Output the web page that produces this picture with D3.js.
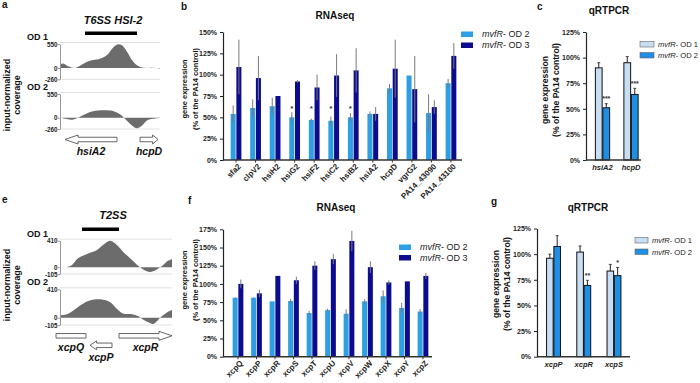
<!DOCTYPE html>
<html>
<head>
<meta charset="utf-8">
<script src="https://cdn.jsdelivr.net/npm/d3@7"></script>
<style>
  body { margin: 0; background: #fff; }
  svg { display: block; }
</style>
</head>
<body>
<script>
// ---- panel a: T6SS HSI-2 coverage (position along locus, coverage) ----
const posA1 = [0, 3, 8, 15, 20, 27, 33, 40, 47, 53, 58, 62, 67, 72, 77, 82, 87, 93, 100];
const covA1 = [80, 100, 40, 0, 50, 140, 183, 214, 298, 466, 545, 520, 374, 183, 61, 8, 0, 5, -15];
const posA2 = [0, 3, 7, 12, 18, 25, 33, 43, 53, 60, 65, 72, 77, 82, 87, 93, 100];
const covA2 = [0, -10, -30, -47, 0, 79, 150, 173, 157, 79, -24, -180, -245, -180, -63, -24, -5];
const genesA = ["hsiA2", "hcpD"];
const geneStartA = [5, 80];
const geneEndA = [57, 98];
const geneStrandA = [-1, 1];
const geneRowA = [0, 0];

// ---- panel e: T2SS coverage ----
const posE1 = [0, 7, 12, 18, 27, 37, 43, 50, 55, 63, 72, 80, 85, 90, 96, 102, 108, 112];
const covE1 = [0, 5, 36, 138, 205, 267, 343, 410, 369, 241, 113, 0, -50, -72, -40, 20, 100, 123];
const posE2 = [0, 7, 13, 20, 27, 33, 43, 50, 57, 63, 72, 78, 83, 90, 93, 97, 100, 107, 112];
const covE2 = [35, 50, 100, 175, 235, 260, 260, 225, 125, 60, 50, 25, -25, -75, -90, -50, 0, 75, 110];
const genesE = ["xcpQ", "xcpP", "xcpR"];
const geneStartE = [-4, 30, 59];
const geneEndE = [26, 52, 112];
const geneStrandE = [0, -1, 1];
const geneRowE = [0, 1, 0];

// ---- panel b: RNAseq T6SS ----
const catsB = ["sfa2", "clpV2", "hsiH2", "hsiG2", "hsiF2", "hsiC2", "hsiB2", "hsiA2", "hcpD", "vgrG2", "PA14_43090", "PA14_43100"];
const od2B = [54, 61, 63, 50, 47, 46, 50, 54, 84, 99, 55, 90];
const od2BErr = [10, 10, 10, 6, 1.5, 5, 5, 3, 5, 0, 22, 5];
const od3B = [109, 96, 75, 92, 85, 99, 105, 54, 107, 83, 62, 122];
const od3BErr = [32, 26, 0, 1.5, 15, 25, 26, 8, 34, 39, 8, 15];
const starsB = ["", "", "", "*", "*", "*", "*", "", "", "", "", ""];

// ---- panel c: qRTPCR T6SS ----
const catsC = ["hsiA2", "hcpD"];
const od1C = [90, 95];
const od1CErr = [5, 6];
const od2C = [51, 64];
const od2CErr = [4, 6];
const starsC = ["***", "***"];

// ---- panel f: RNAseq T2SS ----
const catsF = ["xcpQ", "xcpP", "xcpR", "xcpS", "xcpT", "xcpU", "xcpV", "xcpW", "xcpX", "xcpY", "xcpZ"];
const od2F = [81, 81, 76, 76.5, 60, 64, 59, 76, 83, 67, 62];
const od2FErr = [0.5, 0.5, 0, 3, 3, 2, 6, 3, 8, 7, 3.5];
const od3F = [100, 87, 111, 105, 125, 134, 159, 123, 102, 103.5, 111];
const od3FErr = [6, 5, 0, 5, 6, 7, 14, 8, 3, 0, 4];

// ---- panel g: qRTPCR T2SS ----
const catsG = ["xcpP", "xcpR", "xcpS"];
const od1G = [96, 102, 83.5];
const od1GErr = [4, 6, 6.5];
const od2G = [107.5, 69.5, 79];
const od2GErr = [10.5, 5, 8];
const starsG = ["", "**", "*"];

const FONT = '"Liberation Sans", Arial, Helvetica, sans-serif';
const LIGHT = "#2e9fe2", NAVY = "#0c0c8e";
const PALE = "#c8def3", MID = "#1f8fe6";

const svg = d3.select("body").append("svg")
  .attr("width", 700).attr("height", 383)
  .attr("font-family", FONT);

function label(x, y, s, size, opts = {}) {
  const t = svg.append("text")
    .attr("x", x).attr("y", y)
    .attr("font-size", size)
    .attr("font-weight", opts.weight || "bold")
    .attr("font-style", opts.style || "normal")
    .attr("text-anchor", opts.anchor || "start")
    .attr("fill", opts.fill || "#111");
  if (opts.rotate) t.attr("transform", `rotate(-90,${x},${y})`);
  t.text(s);
  return t;
}

function legendText(x, y, s, size) {
  const t = svg.append("text").attr("x", x).attr("y", y)
    .attr("font-size", size).attr("fill", "#222");
  t.append("tspan").attr("font-style", "italic").text("mvfR");
  t.append("tspan").text("- " + s);
}

// ---------- coverage tracks ----------
function trackPanel(cfg) {
  const g = svg.append("g");
  const x = d3.scaleLinear().domain([0, cfg.posMax]).range([60, 60 + cfg.posMax]);

  cfg.tracks.forEach(t => {
    const y = d3.scaleLinear().domain([cfg.yMin, cfg.yMax]).range([t.bottom, t.top]);

    g.selectAll(null).data([cfg.yMin, cfg.yMax]).join("line")
      .attr("x1", x(0)).attr("x2", x(cfg.posMax))
      .attr("y1", d => y(d) + (d > 0 ? -1.5 : 0)).attr("y2", d => y(d) + (d > 0 ? -1.5 : 0))
      .attr("stroke", "#e2e2e2").attr("stroke-width", 1);

    const area = d3.area()
      .x((d, i) => x(t.pos[i]))
      .y0(y(0)).y1(d => y(d))
      .curve(d3.curveCatmullRom);
    g.append("path").datum(t.cov).attr("d", area).attr("fill", "#6c6c6c");

    g.append("g").attr("transform", "translate(60,0)")
      .call(d3.axisLeft(y).tickValues([cfg.yMin, 0, cfg.yMax]).tickFormat(d => String(d)).tickSize(2).tickSizeOuter(0))
      .call(a => a.select(".domain").attr("stroke", "#999"))
      .call(a => a.selectAll(".tick line").attr("stroke", "#999"))
      .call(a => a.selectAll(".tick text").attr("font-family", FONT).attr("font-size", 6.3)
        .attr("font-weight", "bold").attr("fill", "#222").attr("x", -2.5));

    label(27, t.top - 4, t.name, 9);
  });

  // locus bar
  g.append("rect")
    .attr("x", x(cfg.locus[0])).attr("width", x(cfg.locus[1]) - x(cfg.locus[0]))
    .attr("y", cfg.locusY).attr("height", 3.5).attr("fill", "#000");
  label(113, cfg.titleY, cfg.title, 11, { style: "italic", anchor: "middle" });

  // genes
  cfg.genes.forEach((name, i) => {
    const x0 = x(cfg.starts[i]), x1 = x(cfg.ends[i]);
    const yc = cfg.geneY + cfg.rows[i] * 9.5;
    const sh = 4.5, hh = 9, hl = Math.min(13, (x1 - x0) * 0.3);
    let pts;
    if (cfg.strands[i] > 0) {
      pts = [[x0, yc - sh / 2], [x1 - hl, yc - sh / 2], [x1 - hl, yc - hh / 2], [x1, yc],
             [x1 - hl, yc + hh / 2], [x1 - hl, yc + sh / 2], [x0, yc + sh / 2]];
    } else if (cfg.strands[i] < 0) {
      pts = [[x1, yc - sh / 2], [x0 + hl, yc - sh / 2], [x0 + hl, yc - hh / 2], [x0, yc],
             [x0 + hl, yc + hh / 2], [x0 + hl, yc + sh / 2], [x1, yc + sh / 2]];
    } else {
      pts = [[x0, yc - sh / 2], [x1, yc - sh / 2], [x1, yc + sh / 2], [x0, yc + sh / 2]];
    }
    g.append("polygon").attr("points", pts.map(p => p.join(",")).join(" "))
      .attr("fill", "#fff").attr("stroke", "#555").attr("stroke-width", 0.9);
    label((x0 + x1) / 2, yc + 15.5, name, 10.5, { style: "italic", anchor: "middle" });
  });

  label(9.5, cfg.axisTitleY, "input-normalized", 9, { anchor: "middle", rotate: true });
  label(20, cfg.axisTitleY, "coverage", 9, { anchor: "middle", rotate: true });
}

// ---------- grouped bar charts ----------
function barPanel(cfg) {
  const g = svg.append("g");
  const y = d3.scaleLinear().domain([0, cfg.yMax]).range([cfg.yBottom, cfg.yTop]);
  const x0 = d3.scaleBand().domain(cfg.cats).range(cfg.band)
    .paddingInner(cfg.padIn).paddingOuter(cfg.padIn / 2);
  const x1 = d3.scaleBand().domain(d3.range(cfg.series.length))
    .range([0, x0.bandwidth()]).paddingInner(cfg.gap);

  cfg.series.forEach((s, si) => {
    const rows = s.values.map((v, i) => ({
      cat: cfg.cats[i], v, e: s.errs[i], star: s.stars ? s.stars[i] : ""
    }));
    const cx = d => x0(d.cat) + x1(si) + x1.bandwidth() / 2;

    g.selectAll(null).data(rows).join("rect")
      .attr("x", d => x0(d.cat) + x1(si))
      .attr("y", d => y(d.v))
      .attr("width", x1.bandwidth())
      .attr("height", d => y(0) - y(d.v))
      .attr("fill", s.color)
      .attr("stroke", cfg.outline ? "#111" : "none")
      .attr("stroke-width", cfg.outline ? 1 : 0);

    // RNAseq: symmetric grey bars; qRTPCR: upper bar with a small cap
    const withErr = rows.filter(d => d.e > 0);
    g.selectAll(null).data(withErr).join("line")
      .attr("x1", cx).attr("x2", cx)
      .attr("y1", d => cfg.outline ? y(d.v) : y(d.v - d.e))
      .attr("y2", d => y(d.v + d.e))
      .attr("stroke", cfg.outline ? "#222" : "#7a7a7a")
      .attr("stroke-width", 1);
    if (cfg.outline) {
      g.selectAll(null).data(withErr).join("line")
        .attr("x1", d => cx(d) - 1.5).attr("x2", d => cx(d) + 1.5)
        .attr("y1", d => y(d.v + d.e)).attr("y2", d => y(d.v + d.e))
        .attr("stroke", "#222").attr("stroke-width", 0.8);
    }

    g.selectAll(null).data(rows.filter(d => d.star !== "")).join("text")
      .attr("x", cx)
      .attr("y", d => cfg.starLevel != null ? y(cfg.starLevel) : y(d.v + d.e) - 2.5)
      .attr("text-anchor", "middle").attr("font-size", cfg.starSize)
      .attr("font-weight", "bold").attr("fill", "#333")
      .text(d => d.star);
  });

  // y axis
  g.append("g").attr("transform", `translate(${cfg.xLeft},0)`)
    .call(d3.axisLeft(y).tickValues(d3.range(0, cfg.yMax + 1, 25)).tickFormat(d => d + "%").tickSize(3).tickSizeOuter(0))
    .call(a => a.select(".domain").attr("stroke", "#222").attr("stroke-width", 1.2))
    .call(a => a.selectAll(".tick line").attr("stroke", "#222"))
    .call(a => a.selectAll(".tick text").attr("font-family", FONT).attr("font-size", 7)
      .attr("font-weight", "bold").attr("fill", "#222"));

  // x axis
  g.append("line").attr("x1", cfg.xLeft).attr("x2", cfg.xRight)
    .attr("y1", y(0)).attr("y2", y(0)).attr("stroke", "#333").attr("stroke-width", 1.4);

  const xa = g.append("g").attr("transform", `translate(0,${y(0)})`)
    .call(d3.axisBottom(x0).tickSize(cfg.rotate ? 2.5 : 0).tickPadding(4.5));
  xa.select(".domain").remove();
  xa.selectAll(".tick line").attr("stroke", "#333");
  const tt = xa.selectAll(".tick text").attr("font-family", FONT).attr("font-weight", "bold").attr("fill", "#222");
  if (cfg.rotate) {
    tt.attr("font-size", 8).attr("text-anchor", "end")
      .attr("x", 0).attr("y", 0).attr("dy", "0.35em")
      .attr("transform", "translate(3.5,5) rotate(-45)");
  } else {
    tt.attr("font-size", 7.5).attr("font-style", "italic");
  }

  // axis titles
  label(cfg.xLeft - cfg.t1, cfg.titleMid, "gene expression", cfg.titleSize, { anchor: "middle", rotate: true });
  label(cfg.xLeft - cfg.t2, cfg.titleMid, "(% of the PA14 control)", cfg.titleSize, { anchor: "middle", rotate: true });
}

function legend(x, y, step, colors, names, outline, size, sw) {
  colors.forEach((c, i) => {
    svg.append("rect").attr("x", x).attr("y", y + i * step - 5.5).attr("width", sw).attr("height", 5.5)
      .attr("fill", c).attr("stroke", outline ? "#666" : "none").attr("stroke-width", 0.6);
    legendText(x + sw + (outline ? 4 : 9), y + i * step, names[i], size);
  });
}

// ---------- panel a ----------
label(2, 8, "a", 10);
trackPanel({
  posMax: 100, yMin: -260, yMax: 550, title: "T6SS HSI-2", titleY: 24,
  locus: [25, 77], locusY: 31.5, axisTitleY: 95,
  tracks: [
    { name: "OD 1", pos: posA1, cov: covA1, top: 44, bottom: 79.3 },
    { name: "OD 2", pos: posA2, cov: covA2, top: 94, bottom: 129 }
  ],
  genes: genesA, starts: geneStartA, ends: geneEndA, strands: geneStrandA, rows: geneRowA, geneY: 139.5
});

// ---------- panel e ----------
label(2, 203, "e", 10);
trackPanel({
  posMax: 112, yMin: -105, yMax: 410, title: "T2SS", titleY: 219,
  locus: [22, 59], locusY: 227.5, axisTitleY: 285,
  tracks: [
    { name: "OD 1", pos: posE1, cov: covE1, top: 240.7, bottom: 274.1 },
    { name: "OD 2", pos: posE2, cov: covE2, top: 289.3, bottom: 325 }
  ],
  genes: genesE, starts: geneStartE, ends: geneEndE, strands: geneStrandE, rows: geneRowE, geneY: 335.8
});

// ---------- panel b ----------
label(181, 10, "b", 10);
label(335, 19, "RNAseq", 10, { anchor: "middle" });
barPanel({
  cats: catsB, yMax: 150, yBottom: 160, yTop: 32, xLeft: 223, xRight: 462,
  band: [226.25, 460.75], padIn: 0.45, gap: 0.12, rotate: true,
  series: [
    { values: od2B, errs: od2BErr, color: LIGHT, stars: starsB },
    { values: od3B, errs: od3BErr, color: NAVY }
  ],
  starLevel: 57, starSize: 8,
  t1: 36.5, t2: 25.5, titleMid: 89, titleSize: 7.5
});
legend(461, 37, 11, [LIGHT, NAVY], ["OD 2", "OD 3"], false, 9, 12);

// ---------- panel c ----------
label(537, 10, "c", 10);
label(609, 14, "qRTPCR", 10, { anchor: "middle" });
barPanel({
  cats: catsC, yMax: 125, yBottom: 160, yTop: 32, xLeft: 586, xRight: 641,
  band: [588.25, 645.25], padIn: 0.5, gap: 0.1, rotate: false, outline: true,
  series: [
    { values: od1C, errs: od1CErr, color: PALE },
    { values: od2C, errs: od2CErr, color: MID, stars: starsC }
  ],
  starSize: 7,
  t1: 38, t2: 27, titleMid: 90, titleSize: 8.6
});
legend(640, 47, 11, [PALE, MID], ["OD 1", "OD 2"], true, 7.6, 14);

// ---------- panel f ----------
label(188, 204, "f", 10);
label(336, 211, "RNAseq", 10, { anchor: "middle" });
barPanel({
  cats: catsF, yMax: 175, yBottom: 356.7, yTop: 229.3, xLeft: 223, xRight: 432,
  band: [228.75, 432.25], padIn: 0.42, gap: 0.12, rotate: true,
  series: [
    { values: od2F, errs: od2FErr, color: LIGHT },
    { values: od3F, errs: od3FErr, color: NAVY }
  ],
  starSize: 8,
  t1: 36.5, t2: 25.5, titleMid: 280, titleSize: 7.5
});
legend(399, 250, 10.5, [LIGHT, NAVY], ["OD 2", "OD 3"], false, 9, 12);

// ---------- panel g ----------
label(491, 205, "g", 10);
label(588, 211, "qRTPCR", 10, { anchor: "middle" });
barPanel({
  cats: catsG, yMax: 125, yBottom: 356.7, yTop: 228.5, xLeft: 537, xRight: 630,
  band: [538.4, 629.1], padIn: 0.54, gap: 0.1, rotate: false, outline: true,
  series: [
    { values: od1G, errs: od1GErr, color: PALE },
    { values: od2G, errs: od2GErr, color: MID, stars: starsG }
  ],
  starSize: 7,
  t1: 38, t2: 27, titleMid: 284, titleSize: 8.6
});
legend(635, 243, 11.5, [PALE, MID], ["OD 1", "OD 2"], true, 7.6, 13);
</script>
</body>
</html>
